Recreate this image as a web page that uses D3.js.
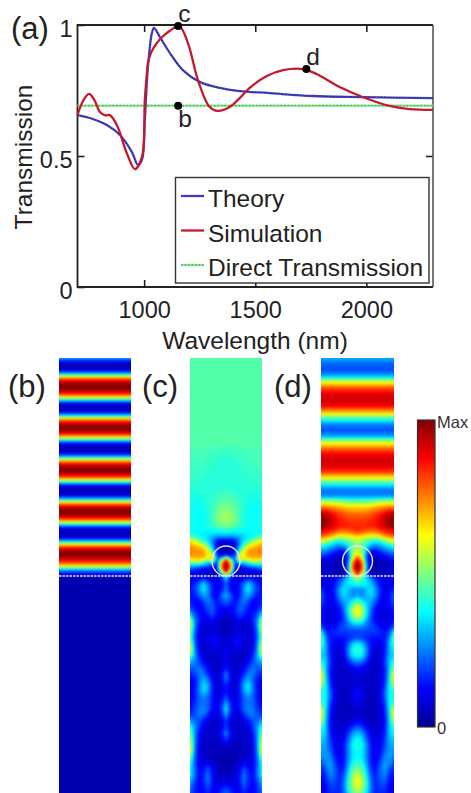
<!DOCTYPE html>
<html>
<head>
<meta charset="utf-8">
<script src="https://cdnjs.cloudflare.com/ajax/libs/d3/7.9.0/d3.min.js"></script>
<style>
  html, body { margin: 0; padding: 0; background: #fff; }
  svg { display: block; }
  text { font-family: "Liberation Sans", Arial, sans-serif; fill: #222; }
  .domain { display: none; }
</style>
</head>
<body>
<svg id="chart" width="471" height="793"></svg>
<script>
// panel (a) curves: [wavelength nm, transmission]
const theory = [[700,.656],[756,.645],[832,.618],[891,.58],[945,.515],[972,.466],[990,.485],[1003,.637],[1017,.84],[1035,.97],[1044,.989],[1071,.954],[1116,.893],[1174,.828],[1250,.783],[1340,.76],[1430,.748],[1565,.74],[1758,.729],[1983,.725],[2300,.721]];
const simulation = [[700,.656],[725,.71],[752,.737],[775,.715],[801,.668],[825,.655],[846,.656],[877,.618],[922,.511],[958,.45],[990,.496],[1003,.714],[1011,.803],[1018,.86],[1033,.898],[1056,.93],[1086,.958],[1116,.978],[1158,.996],[1197,.931],[1242,.79],[1295,.687],[1331,.672],[1385,.687],[1430,.721],[1475,.76],[1552,.805],[1625,.828],[1715,.832],[1776,.813],[1880,.763],[1983,.725],[2104,.691],[2194,.679],[2300,.676]];
const direct = [[700,.692],[2300,.692]];
const markers = [['b',1153,.692],['c',1153,.996],['d',1730,.832]];
const xTicks = [1000,1500,2000];
const yTicks = [0,.5,1];
const legendNames = ['Theory','Simulation','Direct Transmission'];

// panel (b): field per row, no variation across the width
const bTop = [30,14,5,4,10,26,56,80,94,99,99,94,82,62,34,13,5,5,13,32,62,84,95,100,97,88,70,44,18,7,4,6,16,38,66,86,96,100,97,88,70,44,18,7,4,6,16,38,66,86,96,100,97,88,70,44,18,7,4,6,16,38,66,86,96,100,97,88,80,62,37,18,9];
const bLow = [3,3];

// panels (c) and (d): rows hold edge -> centre values, mirrored when drawn; one number = same across
const cTop = [46,46,46,46,46,46,46,46,46,46,46,46,46,46,46,
  [45,45,45,45,45,44,44,44,44],[44,44,44,44,44,43,43,43,42],[44,44,44,44,43,42,42,41,41],[44,44,43,43,42,42,41,41,41],
  [43,43,43,42,42,41,41,41,41],[43,42,42,42,41,41,41,41,41],[42,42,41,41,41,41,41,41,41],[41,41,41,41,41,41,42,42,43],
  [40,40,40,40,41,42,43,44,45],[39,39,39,40,41,43,45,46,47],[38,38,38,39,41,43,47,49,50],[38,38,38,38,40,44,49,52,53],
  [38,38,38,38,40,44,49,52,53],[38,38,38,38,40,43,46,48,50]];
const cNear = [
  [38,38,38,38,38,38,39,41,42],[40,38,37,37,36,36,35,35,36],[46,42,39,36,34,31,29,29,30],[56,50,44,39,34,27,20,17,17],
  [66,60,54,46,38,26,12,9,8],[71,68,64,56,44,27,10,5,5],[74,72,70,66,54,34,12,5,4],[75,74,73,71,62,42,14,5,4],
  [74,73,73,72,64,56,16,6,8],[70,71,71,70,62,72,20,22,40],[60,63,64,60,50,64,20,50,84],[44,46,46,40,32,34,18,68,96],
  [32,30,28,24,20,14,16,74,100],[22,18,16,13,11,8,14,68,100],[12,10,9,8,7,6,10,46,84],[8,8,7,7,6,6,8,24,56]];
const cLow = [
  [10,10,12,14,12,8,8,16,34],[12,16,24,34,24,14,10,12,22],[14,18,26,36,28,14,10,14,24],[14,14,20,28,26,14,12,22,30],
  [16,12,12,18,24,20,14,18,22],[20,14,12,14,20,22,14,12,14],[34,20,14,12,16,20,14,10,8],[54,26,16,10,10,14,10,6,5],
  [60,28,12,8,7,8,7,5,4],[54,24,10,7,7,8,8,6,5],[48,22,10,8,9,12,12,8,6],[58,26,10,7,8,12,12,8,8],
  [62,28,12,7,7,9,9,7,12],[52,30,16,8,7,7,7,7,14],[32,26,20,12,8,6,6,7,12],[22,22,24,18,12,8,6,8,14],
  [16,18,24,24,16,9,6,12,24],[12,14,22,30,24,12,7,12,24],[10,12,24,36,30,14,7,10,16],[10,14,24,34,28,14,7,10,14],
  [10,14,22,26,22,14,8,12,20],[12,16,22,24,22,14,9,16,30],[14,18,24,26,22,12,9,18,36],[18,20,24,22,16,9,8,14,28],
  [30,24,20,14,10,7,7,10,18],[44,28,18,10,8,6,6,10,18],[50,28,14,8,6,6,7,14,26],[56,28,12,7,6,6,6,10,18],
  [62,28,10,6,6,5,5,6,8],[62,26,10,6,6,5,5,5,5],[52,24,10,7,6,5,4,4,4],[40,22,10,10,12,8,5,4,4],
  [38,24,12,14,20,12,6,4,4],[38,24,12,16,24,14,7,5,5],[32,20,12,16,24,14,8,8,8],[26,16,12,14,20,12,10,14,16],
  [22,16,12,12,16,12,12,18,22]];

const dTop = [30,22,20,30,60,80,90,92,88,70,45,26,20,28,58,76,88,92,90,82,62,38,24,26,
  [58,58,56,56,54,52,50,50,50],[78,78,76,74,72,70,68,68,68],[95,94,90,86,82,80,78,77,77],[99,98,94,89,86,84,82,82,82],[99,97,93,89,86,85,85,84,84]];
const dNear = [
  [90,88,86,84,80,79,80,82,84],[86,84,80,76,72,72,72,76,78],[78,76,72,66,60,62,62,66,68],[66,64,58,50,46,50,52,56,58],
  [60,52,46,38,36,40,44,50,54],[44,40,36,30,28,30,38,48,52],[36,32,28,24,20,22,34,50,54],[28,26,22,18,14,14,28,52,60],
  [22,20,16,12,9,9,24,54,66],[16,14,11,8,6,6,20,58,76],[12,10,8,6,5,5,22,68,88],[10,8,6,5,4,4,26,76,96],
  [8,7,6,5,4,4,28,80,100],[8,7,6,5,4,5,28,78,100],[8,7,6,5,4,6,28,68,92],[8,7,6,5,5,7,26,54,78]];
const dLow = [
  [10,10,10,12,16,24,34,46,56],[12,10,10,14,22,32,36,38,40],[18,12,10,16,28,36,32,26,26],[22,14,10,14,26,34,30,26,30],
  [20,14,10,12,20,28,32,40,48],[16,12,9,10,14,24,36,54,62],[14,10,8,9,12,20,36,56,62],[14,10,8,9,12,18,30,44,48],
  [20,12,10,12,16,20,24,28,28],[38,18,14,16,18,18,18,18,18],[48,26,14,14,14,14,16,18,20],[46,30,14,10,10,12,22,32,36],
  [38,30,14,8,8,12,26,40,44],[34,30,16,8,7,10,24,36,38],[42,32,18,9,6,8,16,24,26],[52,32,16,8,6,7,10,12,14],
  [64,34,14,8,6,6,7,8,9],[66,36,16,8,6,6,6,7,8],[54,38,18,9,6,6,6,7,9],[42,38,22,10,6,5,6,10,14],
  [40,38,22,10,6,5,6,10,14],[46,38,18,9,6,5,5,8,10],[62,36,16,8,5,5,5,6,8],[66,34,14,7,5,5,5,6,7],
  [58,32,14,7,6,6,7,10,12],[44,32,14,8,7,8,12,18,22],[38,32,16,9,8,10,18,28,32],[34,30,18,10,9,12,22,34,38],
  [30,28,20,11,10,14,26,38,42],[28,28,22,13,10,14,26,36,38],[24,28,26,16,10,14,26,36,38],[20,26,28,20,12,14,28,40,42],
  [16,20,28,22,14,16,32,46,50],[14,16,26,22,16,20,36,52,58],[12,14,22,20,16,22,40,56,62],[10,12,18,18,16,24,40,54,60],
  [10,12,16,16,16,22,36,48,52]];

const svg = d3.select('#chart');
const fontBig = 24.5;

// ---- panel (a)
const x = d3.scaleLinear().domain([700, 2300]).range([77.5, 433]);
const y = d3.scaleLinear().domain([0, 1]).range([287, 25]);
const line = d3.line().x((d) => x(d[0])).y((d) => y(d[1]));
const curve = d3.line().x((d) => x(d[0])).y((d) => y(d[1])).curve(d3.curveCatmullRom.alpha(0.5));

const styleAxis = (g) => {
  g.selectAll('.tick line').attr('stroke', '#222').attr('stroke-width', 1.6);
  g.selectAll('.tick text').attr('fill', '#222').style('font-size', '23.5px');
};

svg.append('g')
    .attr('transform', `translate(0,${ y(0) })`)
    .call(d3.axisBottom(x).tickValues(xTicks).tickSize(-7).tickPadding(14).tickFormat(d3.format('d')))
    .call(styleAxis);
svg.append('g')
    .attr('transform', `translate(0,${ y(1) })`)
    .call(d3.axisTop(x).tickValues(xTicks).tickSize(-7).tickFormat(''))
    .call(styleAxis);
svg.append('g')
    .attr('transform', `translate(${ x(700) },0)`)
    .call(d3.axisLeft(y).tickValues(yTicks).tickSize(-7).tickPadding(5).tickFormat((d) => d))
    .call(styleAxis)
    .selectAll('text').attr('dy', '.48em');
svg.append('g')
    .attr('transform', `translate(${ x(2300) },0)`)
    .call(d3.axisRight(y).tickValues([.5]).tickSize(-7).tickFormat(''))
    .call(styleAxis);

svg.append('path')
    .attr('d', `M${ x(2300) },${ y(1) }H${ x(700) }V${ y(0) }H${ x(2300) }`)
    .attr('fill', 'none').attr('stroke', '#222').attr('stroke-width', 1.8);
svg.append('path')
    .attr('d', `M${ x(2300) },${ y(1) }V${ y(0) }`)
    .attr('fill', 'none').attr('stroke', '#555').attr('stroke-width', 1.6);

const seriesStyle = [
  {name: 'Theory', color: '#4a4ac0', over: '#1f1f8f', dash: '1.5,1.5'},
  {name: 'Simulation', color: '#c5192d', over: null},
  {name: 'Direct Transmission', color: '#86e88e', over: '#2f9f3f', dash: '1.5,2'}
];
const drawSeries = (sel, d, gen, s) => {
  sel.append('path').attr('d', gen(d))
      .attr('fill', 'none').attr('stroke', s.color).attr('stroke-width', 2.3);
  if (s.over) {
    sel.append('path').attr('d', gen(d))
        .attr('fill', 'none').attr('stroke', s.over).attr('stroke-width', 1.1)
        .attr('stroke-dasharray', s.dash);
  }
};
drawSeries(svg, direct, line, seriesStyle[2]);
drawSeries(svg, theory, curve, seriesStyle[0]);
drawSeries(svg, simulation, curve, seriesStyle[1]);

svg.selectAll('.mark')
    .data(markers)
  .enter().append('circle')
    .attr('class', 'mark')
    .attr('cx', (d) => x(d[1]))
    .attr('cy', (d) => y(d[2]))
    .attr('r', 4)
    .attr('fill', '#000');

svg.selectAll('.markLabel')
    .data(markers)
  .enter().append('text')
    .attr('class', 'markLabel')
    .attr('x', (d) => x(d[1]))
    .attr('y', (d) => y(d[2]) + (d[0] === 'b' ? 21 : -4))
    .style('font-size', `${ fontBig }px`)
    .text((d) => d[0]);

// legend
const legend = svg.append('g');
legend.append('rect')
    .attr('x', 175.5).attr('y', 177.5).attr('width', 253.5).attr('height', 105.5)
    .attr('fill', '#fff').attr('stroke', '#333').attr('stroke-width', 1.4);
const legendY = d3.scalePoint().domain(legendNames).range([196, 265]);
legendNames.forEach((name, i) => {
  const s = seriesStyle[i];
  const row = legend.append('g');
  drawSeries(row, [[181, legendY(name)], [204, legendY(name)]], d3.line(), s);
  row.append('text')
      .attr('x', 208)
      .attr('y', legendY(name) + 11)
      .style('font-size', `${ fontBig }px`)
      .text(name);
});

svg.append('text')
    .attr('x', 255).attr('y', 349)
    .attr('text-anchor', 'middle')
    .style('font-size', `${ fontBig }px`)
    .text('Wavelength (nm)');
svg.append('text')
    .attr('transform', 'translate(32,157) rotate(-90)')
    .attr('text-anchor', 'middle')
    .style('font-size', `${ fontBig }px`)
    .text('Transmission');

// ---- field panels
const jetStops = [0, 12.5, 37.5, 62.5, 87.5, 100];
const jet = d3.scaleLinear()
    .domain(jetStops)
    .range(['#00008f', '#0000ff', '#00ffff', '#ffff00', '#ff0000', '#800000']);
const levels = d3.range(0, 100, 1.5);

const drawField = (id, x0, x1, top, near, low) => {
  const rows = top.concat(near, low);
  const half = 9;
  const nx = half * 2 - 1;
  const values = [];
  rows.forEach((r) => {
    const h = typeof r === 'number' ? d3.range(half).map(() => r) : r;
    h.concat(h.slice(0, -1).reverse()).forEach((v) => values.push(v));
  });

  const sx = d3.scaleLinear().domain([0, nx - 1]).range([x0, x1]);
  const rowDomain = [0, top.length + near.length - 1, top.length + near.length, rows.length - 1];
  const rowRange = [358, 575, 578, 793];
  if (near.length) {
    rowDomain.splice(1, 0, top.length - 1, top.length);
    rowRange.splice(1, 0, 526, 530);
  }
  const sy = d3.scaleLinear().domain(rowDomain).range(rowRange);

  svg.append('clipPath').attr('id', `clip-${ id }`)
    .append('rect')
      .attr('x', x0).attr('y', 358).attr('width', x1 - x0).attr('height', 435);

  const g = svg.append('g')
      .attr('clip-path', `url(#clip-${ id })`)
    .append('g')
      .attr('filter', 'url(#soft)');

  g.append('rect')
      .attr('x', x0 - 5).attr('y', 353).attr('width', x1 - x0 + 10).attr('height', 445)
      .attr('fill', jet(0));

  const project = d3.geoPath(d3.geoTransform({
    point(px, py) { this.stream.point(sx(px - 0.5), sy(py - 0.5)); }
  }));
  const contours = d3.contours().size([nx, rows.length]).thresholds(levels)(values);
  g.selectAll('path')
      .data(contours)
    .enter().append('path')
      .attr('d', project)
      .attr('fill', (d) => jet(d.value + 0.75));

  // interface
  svg.append('line')
      .attr('x1', x0).attr('x2', x1).attr('y1', 576).attr('y2', 576)
      .attr('stroke', '#e8e8e8').attr('stroke-width', 1.6).attr('stroke-dasharray', '2.5,1');
};

const defs = svg.append('defs');
defs.append('filter').attr('id', 'soft')
    .attr('x', '-5%').attr('y', '-5%').attr('width', '110%').attr('height', '110%')
    .attr('color-interpolation-filters', 'sRGB')
  .append('feGaussianBlur').attr('stdDeviation', 1);

drawField('b', 59, 131, bTop, [], bLow);
drawField('c', 190, 262, cTop, cNear, cLow);
drawField('d', 321, 394, dTop, dNear, dLow);

// particle outlines
[[226, 14], [357.5, 15]].forEach((d) => {
  svg.append('ellipse')
      .attr('cx', d[0]).attr('cy', 561)
      .attr('rx', d[1]).attr('ry', 15)
      .attr('fill', 'none').attr('stroke', '#e4e4e4').attr('stroke-width', 1.4);
});

// panel letters
const panelLetters = [['(a)', 11, 39], ['(b)', 8, 397], ['(c)', 142, 397], ['(d)', 274, 397]];
svg.selectAll('.letter')
    .data(panelLetters)
  .enter().append('text')
    .attr('class', 'letter')
    .attr('x', (d) => d[1])
    .attr('y', (d) => d[2])
    .style('font-size', '31px')
    .text((d) => d[0]);

// colour bar
const barY = d3.scaleLinear().domain([0, 100]).range([727, 420]);
const grad = defs.append('linearGradient').attr('id', 'jet')
    .attr('x1', 0).attr('x2', 0).attr('y1', 1).attr('y2', 0);
jetStops.forEach((v) => {
  grad.append('stop').attr('offset', `${ v }%`).attr('stop-color', jet(v));
});
svg.append('rect')
    .attr('x', 417.5).attr('y', barY(100))
    .attr('width', 17.5).attr('height', barY(0) - barY(100))
    .attr('fill', 'url(#jet)').attr('stroke', '#333').attr('stroke-width', 1.2);
svg.append('text').attr('x', 437).attr('y', barY(100) + 8)
    .style('font-size', '16.5px').style('fill', '#333').text('Max');
svg.append('text').attr('x', 437).attr('y', barY(0) + 7)
    .style('font-size', '16.5px').style('fill', '#333').text('0');
</script>
</body>
</html>
